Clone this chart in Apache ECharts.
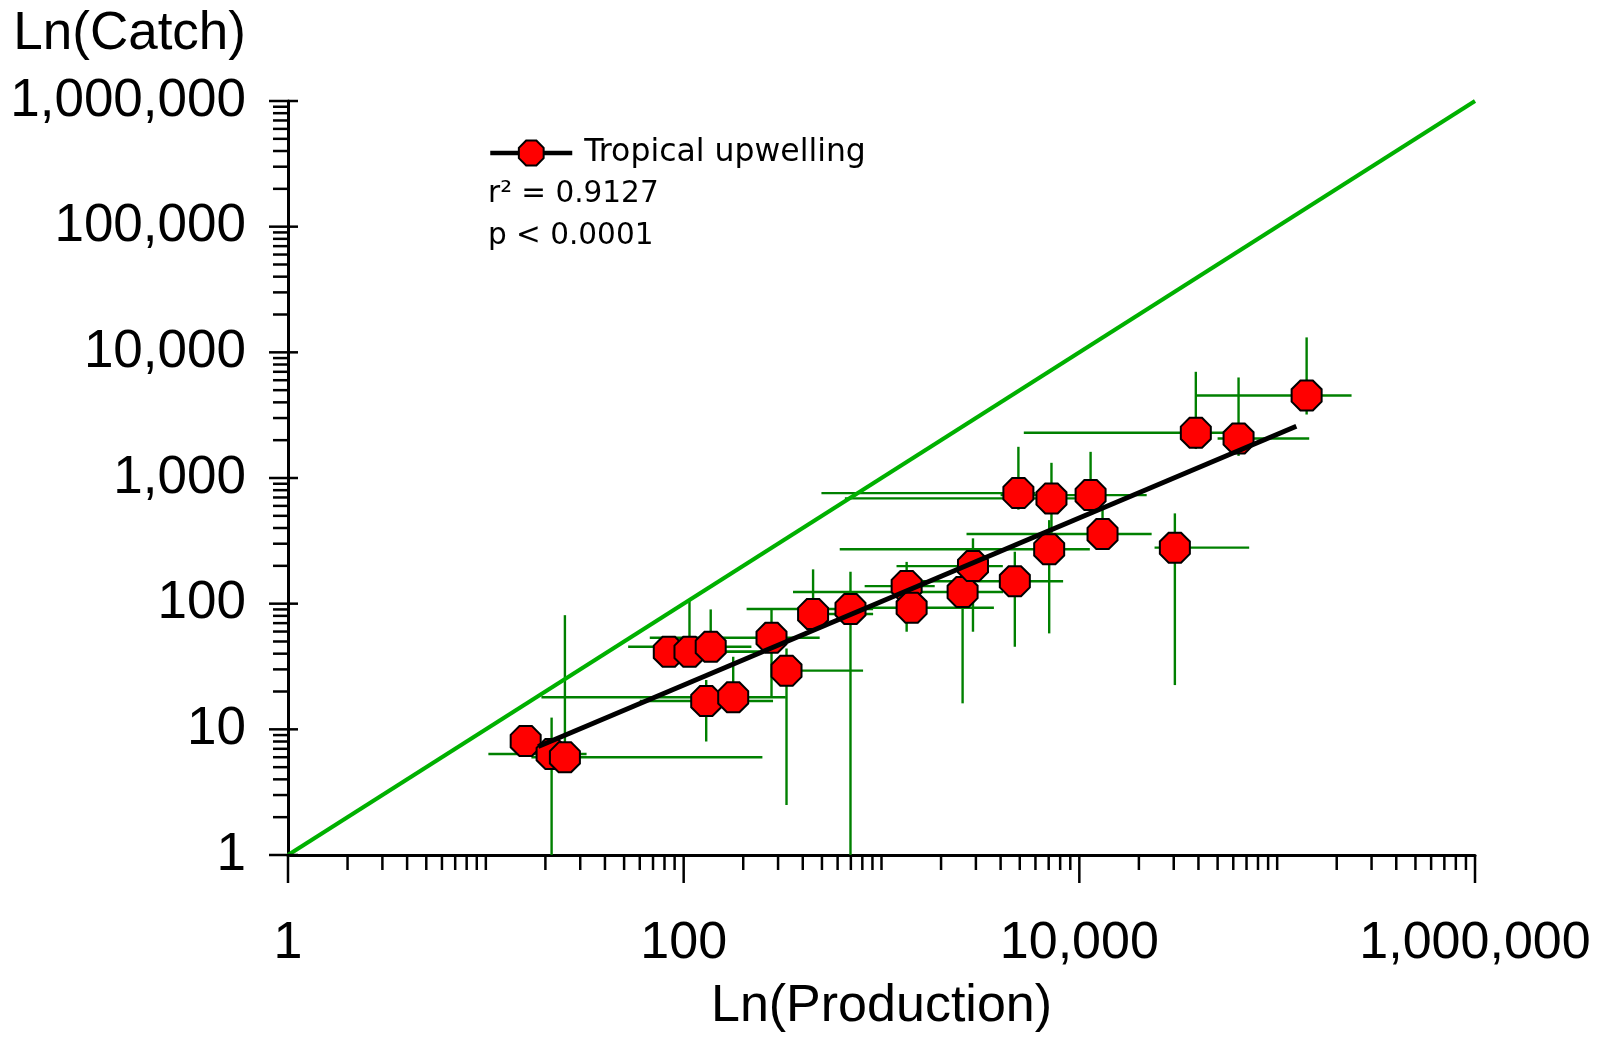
<!DOCTYPE html>
<html>
<head>
<meta charset="utf-8">
<script src="https://cdn.jsdelivr.net/npm/echarts@6/dist/echarts.min.js"></script>
<style>
  html, body { margin: 0; padding: 0; background: #ffffff; }
  #chart { width: 1606px; height: 1058px; }
</style>
</head>
<body>
<div id="chart"></div>
<script>
// Catch against production for tropical upwelling systems, both on log scales,
// with error ranges, fitted regression and the 1:1 line.

const production = [15.9, 21.5, 25.1, 84.1, 107, 137, 130, 178, 278, 331, 451, 697, 1340,
  1420, 2570, 2900, 4720, 4920, 7040, 7230, 11400, 13100, 30400, 38800, 63800, 140900];
const catchValues = [8.07, 6.36, 5.99, 41.4, 41.4, 45.4, 16.8, 18.0, 53.5, 29.3, 82.7, 90.6, 138,
  92.8, 124, 199, 151, 758, 271, 688, 731, 358, 279, 2290, 2065, 4540];

const productionLow = [14, 10.3, 17, 75, 80, 52.4, 60, 19.1, 67.4, 290, 400, 208, 822,
  840, 357, 1191, 1300, 497, 615, 653, 4000, 2690, 24000, 5240, 50000, 39100];
const productionHigh = [18, 32.3, 250, 242, 242, 220, 283, 328, 487, 807, 907, 907, 1858,
  3700, 4120, 4105, 8280, 6000, 11300, 9500, 21900, 23200, 72200, 55500, 145200, 237700];
const catchLow = [7.2, 1, 5, 32, 32, 35, 8.0, 14, 18.2, 2.5, 60, 1, 59.8,
  75, 16.1, 59.8, 45.4, 560, 58, 363, 560, 290, 22.5, 1700, 1500, 3200];
const catchHigh = [9, 12.4, 81, 52, 107, 90, 24.7, 37.8, 90.1, 44, 187.5, 179.5, 215,
  115, 170, 331, 259, 1771, 462, 1321, 1615, 590, 523, 7000, 6310, 13150];

const regressionLine = [[18.4, 7.3], [125000, 2580]];
const identityLine = [[1, 1], [1000000, 1000000]];

const axisMin = 1;
const axisMax = 1000000;
const xTickLabels = ['1', '100', '10,000', '1,000,000'];
const yTickLabels = ['1', '10', '100', '1,000', '10,000', '100,000', '1,000,000'];

const seriesName = 'Tropical upwelling';
const statLines = ['r\u00B2 = 0.9127', 'p < 0.0001'];

const FONT = '"Liberation Sans", Arial, sans-serif';
const SMALL_FONT = '"DejaVu Sans", sans-serif';
const OCTAGON = 'path://M0.2929,0L0.7071,0L1,0.2929L1,0.7071L0.7071,1L0.2929,1L0,0.7071L0,0.2929Z';

// Log tick positions: every integer multiple within each decade of the axis range
const tickValues = [];
for (let d = axisMin; d < axisMax; d *= 10) {
  for (let k = 1; k < 10; k++) tickValues.push(d * k);
}
tickValues.push(axisMax);

function decadeIndex(v) {
  const e = Math.log10(v);
  const r = Math.round(e);
  return Math.abs(e - r) < 1e-6 ? r : null;
}

const errorData = production.map((x, i) =>
  [x, catchValues[i], productionLow[i], productionHigh[i], catchLow[i], catchHigh[i]]);

const chart = echarts.init(document.getElementById('chart'), null, { renderer: 'canvas' });

chart.setOption({
  animation: false,
  backgroundColor: '#ffffff',
  grid: { left: 288, top: 101, right: 131, bottom: 203, containLabel: false, outerBoundsMode: 'none' },
  legend: {
    data: [seriesName],
    left: 488,
    top: 137,
    padding: 0,
    itemWidth: 82,
    itemHeight: 31,
    selectedMode: false,
    lineStyle: { width: 4.5, color: '#000' },
    textStyle: { fontFamily: SMALL_FONT, fontSize: 31.5, color: '#000', padding: [0, 0, 0, 7] }
  },
  graphic: statLines.map((t, i) => ({
    type: 'text',
    x: 488,
    y: 194 + i * 42,
    silent: true,
    style: { text: t, fontFamily: SMALL_FONT, fontSize: 29.5, fill: '#000', align: 'left', verticalAlign: 'middle' }
  })),
  xAxis: {
    type: 'log',
    logBase: 100,
    min: axisMin,
    max: axisMax,
    name: 'Ln(Production)',
    nameLocation: 'middle',
    nameGap: 126,
    nameTextStyle: { fontFamily: FONT, fontSize: 52, color: '#000' },
    axisLine: { show: true, onZero: false, lineStyle: { color: '#000', width: 3 } },
    axisTick: { show: false },
    splitLine: { show: false },
    minorTick: { show: false },
    axisLabel: {
      margin: 63,
      fontFamily: FONT,
      fontSize: 52,
      color: '#000',
      formatter: v => xTickLabels[Math.round(Math.log10(v) / 2)]
    }
  },
  yAxis: {
    type: 'log',
    logBase: 10,
    min: axisMin,
    max: axisMax,
    name: 'Ln(Catch)',
    nameLocation: 'end',
    nameGap: 67,
    nameTextStyle: { fontFamily: FONT, fontSize: 53, color: '#000', align: 'right', verticalAlign: 'middle', padding: [0, 42, 0, 0] },
    axisLine: { show: true, onZero: false, lineStyle: { color: '#000', width: 3 } },
    axisTick: { show: false },
    splitLine: { show: false },
    minorTick: { show: false },
    axisLabel: {
      margin: 42,
      padding: [6, 0, 0, 0],
      fontFamily: FONT,
      fontSize: 53,
      color: '#000',
      formatter: v => yTickLabels[Math.round(Math.log10(v))]
    }
  },
  series: [
    {
      // x-axis ticks: long at labelled decades, short elsewhere
      type: 'custom',
      silent: true,
      clip: false,
      z: 5,
      data: tickValues.map(v => [v, axisMin]),
      renderItem: (params, api) => {
        const v = api.value(0);
        const p = api.coord([v, axisMin]);
        const di = decadeIndex(v);
        const len = (di !== null && di % 2 === 0) ? 28 : 15;
        return {
          type: 'line',
          shape: { x1: p[0], y1: p[1], x2: p[0], y2: p[1] + len },
          style: { stroke: '#000', lineWidth: 2.5 }
        };
      }
    },
    {
      // y-axis ticks: decades cross the axis, intermediate ticks sit outside
      type: 'custom',
      silent: true,
      clip: false,
      z: 5,
      data: tickValues.map(v => [axisMin, v]),
      renderItem: (params, api) => {
        const v = api.value(1);
        const p = api.coord([axisMin, v]);
        const major = decadeIndex(v) !== null;
        return {
          type: 'line',
          shape: { x1: p[0] - (major ? 19 : 15), y1: p[1], x2: p[0] + (major ? 10 : 0), y2: p[1] },
          style: { stroke: '#000', lineWidth: 2.5 }
        };
      }
    },
    {
      // error ranges on both variables
      type: 'custom',
      silent: true,
      clip: true,
      z: 2,
      encode: { x: 0, y: 1 },
      data: errorData,
      renderItem: (params, api) => {
        const x = api.value(0), y = api.value(1);
        const c = api.coord([x, y]);
        const l = api.coord([api.value(2), y]);
        const r = api.coord([api.value(3), y]);
        const b = api.coord([x, api.value(4)]);
        const t = api.coord([x, api.value(5)]);
        const style = { stroke: '#008000', lineWidth: 2.4 };
        return {
          type: 'group',
          children: [
            { type: 'line', shape: { x1: l[0], y1: c[1], x2: r[0], y2: c[1] }, style },
            { type: 'line', shape: { x1: c[0], y1: b[1], x2: c[0], y2: t[1] }, style }
          ]
        };
      }
    },
    {
      name: '1:1',
      type: 'line',
      silent: true,
      z: 3,
      data: identityLine,
      showSymbol: false,
      symbol: 'none',
      lineStyle: { color: '#00b000', width: 4 }
    },
    {
      name: 'points',
      type: 'scatter',
      silent: true,
      z: 4,
      data: production.map((x, i) => [x, catchValues[i]]),
      symbol: OCTAGON,
      symbolSize: 30,
      itemStyle: { color: '#ff0000', borderColor: '#000', borderWidth: 2, opacity: 1 }
    },
    {
      name: seriesName,
      type: 'line',
      silent: true,
      z: 6,
      data: regressionLine,
      showSymbol: false,
      symbol: OCTAGON,
      symbolSize: 30,
      itemStyle: { color: '#ff0000', borderColor: '#000', borderWidth: 2 },
      lineStyle: { color: '#000', width: 5 }
    }
  ]
});
</script>
</body>
</html>
